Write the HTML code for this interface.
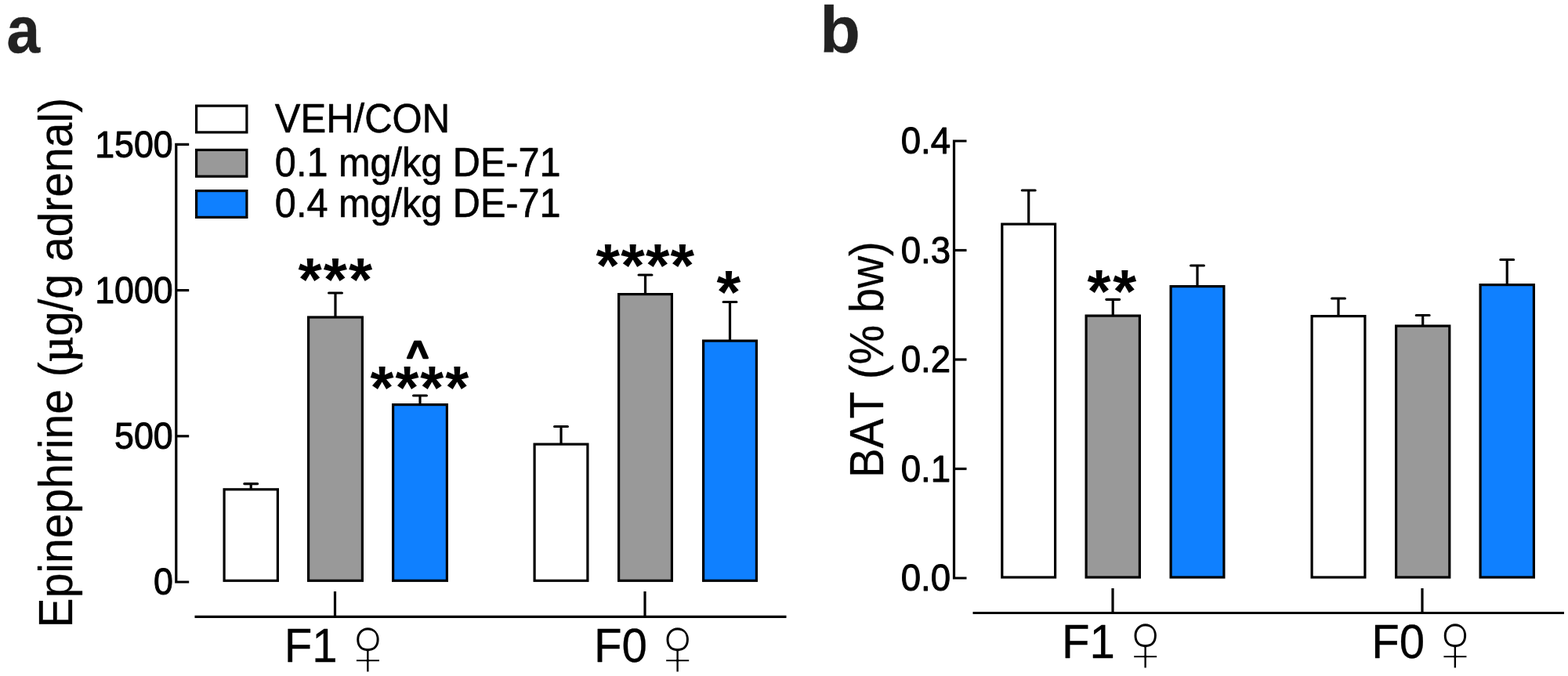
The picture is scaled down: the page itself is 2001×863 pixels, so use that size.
<!DOCTYPE html>
<html lang="en">
<head>
<meta charset="utf-8">
<title>Epinephrine (µg/g adrenal) and BAT (% bw)</title>
<style>
html,body{margin:0;padding:0;background:#fff;}
body{width:2001px;height:863px;overflow:hidden;}
svg{display:block;}
text{font-family:"Liberation Sans","DejaVu Sans",sans-serif;font-kerning:none;fill:#000;stroke:#000;stroke-width:1px;stroke-linejoin:round;}
.b{font-weight:bold;}
.mu{font-family:"Liberation Serif","DejaVu Serif",serif;stroke-width:1.3px;}
.venus{font-family:"WenQuanYi Zen Hei","DejaVu Sans",sans-serif;stroke:#fff;stroke-width:1.4px;}
.ln line,.ln rect,.ln path{stroke:#000;stroke-width:3.2;}
.ln path{fill:none;}
.ln .eb{stroke-linecap:round;}
</style>
</head>
<body>
<svg width="2001" height="863" viewBox="0 0 2001 863">
<rect x="0" y="0" width="2001" height="863" fill="#ffffff"/>
<g class="ln">
<path d="M241.2 184.4H224.8V743H241.2"/>
<line x1="224.8" y1="556.8" x2="241.2" y2="556.8"/>
<line x1="224.8" y1="370.6" x2="241.2" y2="370.6"/>
<path class="eb" d="M320.25 624.8V617.6M311.85 617.6H328.65"/>
<rect x="286.1" y="624.8" width="68.3" height="116.5" fill="#ffffff"/>
<path class="eb" d="M428 405V374M419.6 374H436.4"/>
<rect x="393.6" y="405" width="68.8" height="336.3" fill="#999999"/>
<path class="eb" d="M536 516.6V505M527.6 505H544.4"/>
<rect x="501.6" y="516.6" width="68.8" height="224.7" fill="#0f80ff"/>
<path class="eb" d="M716 567.1V544.5M707.6 544.5H724.4"/>
<rect x="682.1" y="567.1" width="67.8" height="174.2" fill="#ffffff"/>
<path class="eb" d="M823.5 375.6V351M815.1 351H831.9"/>
<rect x="789.6" y="375.6" width="67.8" height="365.7" fill="#999999"/>
<path class="eb" d="M931.5 435.1V385.5M923.1 385.5H939.9"/>
<rect x="897.6" y="435.1" width="67.8" height="306.2" fill="#0f80ff"/>
<line x1="248.5" y1="787.3" x2="1003.5" y2="787.3"/>
<line x1="427.5" y1="755" x2="427.5" y2="787.3"/>
<line x1="823" y1="755" x2="823" y2="787.3"/>
<rect x="250.6" y="135.1" width="64.3" height="33.8" fill="#ffffff"/>
<rect x="250.6" y="191.4" width="64.3" height="33.8" fill="#999999"/>
<rect x="250.6" y="243.6" width="64.3" height="33.8" fill="#0f80ff"/>
</g>
<text class="b" transform="translate(8.4 67.47) scale(0.9239 1)" style="font-size:82.91px;fill:#222;stroke:#222;stroke-width:0.4px;">a</text>
<text transform="translate(195.95 759.42) scale(0.9400 1)" style="font-size:47.61px;">0</text>
<text transform="translate(146.06 573.22) scale(0.9400 1)" style="font-size:47.61px;">500</text>
<text transform="translate(121.22 387.02) scale(0.9400 1)" style="font-size:47.61px;">1000</text>
<text transform="translate(121.22 200.82) scale(0.9400 1)" style="font-size:47.61px;">1500</text>
<text transform="translate(350.85 168.95) scale(0.9514 1)" style="font-size:51.52px;stroke-width:0.6px;">VEH/CON</text>
<text transform="translate(350.86 224.7) scale(0.9437 1)" style="font-size:51.52px;stroke-width:0.6px;">0.1 mg/kg DE-71</text>
<text transform="translate(350.86 276.6) scale(0.9437 1)" style="font-size:51.52px;stroke-width:0.6px;">0.4 mg/kg DE-71</text>
<text transform="translate(91.85 801.41) rotate(-90) scale(0.9441 1)" style="font-size:60.43px;stroke-width:0.3px;">Epinephrine (<tspan class="mu">µ</tspan>g/g adrenal)</text>
<text transform="translate(362.69 844.85) scale(0.9530 1)" style="font-size:61.16px;stroke-width:0.3px;">F1</text>
<text class="venus" transform="translate(435.61 854.68) scale(0.95 1)" style="font-size:71.55px">♀</text>
<text transform="translate(757.99 844.85) scale(0.9530 1)" style="font-size:61.16px;stroke-width:0.3px;">F0</text>
<text class="venus" transform="translate(830.71 854.68) scale(0.95 1)" style="font-size:71.55px">♀</text>
<text class="b" transform="translate(380.61 383.52) scale(1.0000 1)" style="font-size:77.57px;letter-spacing:2.01px;stroke-width:0px;">***</text>
<text class="b" transform="translate(472.61 521.65) scale(1.0000 1)" style="font-size:77.03px;letter-spacing:1.87px;stroke-width:0px;">****</text>
<text class="b" transform="translate(519 468.93) scale(0.9865 1)" style="font-size:48.51px;stroke-width:2.4px;">^</text>
<text class="b" transform="translate(760.61 366.08) scale(1.0000 1)" style="font-size:78.38px;letter-spacing:1.17px;stroke-width:0px;">****</text>
<text class="b" transform="translate(914.61 399.65) scale(1.0249 1)" style="font-size:77.03px;stroke-width:0px;">*</text>
<g class="ln">
<path d="M1233.5 180H1217.5V738H1233.5"/>
<line x1="1217.5" y1="598.5" x2="1233.5" y2="598.5"/>
<line x1="1217.5" y1="459" x2="1233.5" y2="459"/>
<line x1="1217.5" y1="319.5" x2="1233.5" y2="319.5"/>
<path class="eb" d="M1312.7 286.1V243M1304.3 243H1321.1"/>
<rect x="1278.8" y="286.1" width="67.8" height="450.9" fill="#ffffff"/>
<path class="eb" d="M1420.25 403.1V382.3M1411.85 382.3H1428.65"/>
<rect x="1386.1" y="403.1" width="68.3" height="333.9" fill="#999999"/>
<path class="eb" d="M1528 365.6V339M1519.6 339H1536.4"/>
<rect x="1494.1" y="365.6" width="67.8" height="371.4" fill="#0f80ff"/>
<path class="eb" d="M1708 403.6V381M1699.6 381H1716.4"/>
<rect x="1674.1" y="403.6" width="67.8" height="333.4" fill="#ffffff"/>
<path class="eb" d="M1815.7 416.1V402.5M1807.3 402.5H1824.1"/>
<rect x="1781.6" y="416.1" width="68.2" height="320.9" fill="#999999"/>
<path class="eb" d="M1923.25 363.6V331.5M1914.85 331.5H1931.65"/>
<rect x="1889.1" y="363.6" width="68.3" height="373.4" fill="#0f80ff"/>
<line x1="1241.5" y1="782.5" x2="1996" y2="782.5"/>
<line x1="1420" y1="751" x2="1420" y2="782.5"/>
<line x1="1815" y1="751" x2="1815" y2="782.5"/>
</g>
<text class="b" transform="translate(1046.22 67.47) scale(1.0115 1)" style="font-size:83.4px;fill:#222;stroke:#222;stroke-width:0.4px;">b</text>
<text transform="translate(1149.68 754.03) scale(0.9663 1)" style="font-size:47.18px;">0.0</text>
<text transform="translate(1149.68 614.53) scale(0.9663 1)" style="font-size:47.18px;">0.1</text>
<text transform="translate(1149.68 475.03) scale(0.9663 1)" style="font-size:47.18px;">0.2</text>
<text transform="translate(1149.68 335.53) scale(0.9663 1)" style="font-size:47.18px;">0.3</text>
<text transform="translate(1149.68 196.03) scale(0.9663 1)" style="font-size:47.18px;">0.4</text>
<text transform="translate(1126.85 609.88) rotate(-90) scale(0.9253 1)" style="font-size:61.16px;stroke-width:0.3px;">BAT (% bw)</text>
<text transform="translate(1354.99 840.15) scale(0.9560 1)" style="font-size:60.87px;stroke-width:0.3px;">F1</text>
<text class="venus" transform="translate(1427.71 850.48) scale(0.95 1)" style="font-size:71.55px">♀</text>
<text transform="translate(1750.29 840.15) scale(0.9560 1)" style="font-size:60.87px;stroke-width:0.3px;">F0</text>
<text class="venus" transform="translate(1823.01 850.48) scale(0.95 1)" style="font-size:71.55px">♀</text>
<text class="b" transform="translate(1387.61 398.65) scale(1.0000 1)" style="font-size:77.03px;letter-spacing:2.69px;stroke-width:0px;">**</text>
</svg>
</body>
</html>
